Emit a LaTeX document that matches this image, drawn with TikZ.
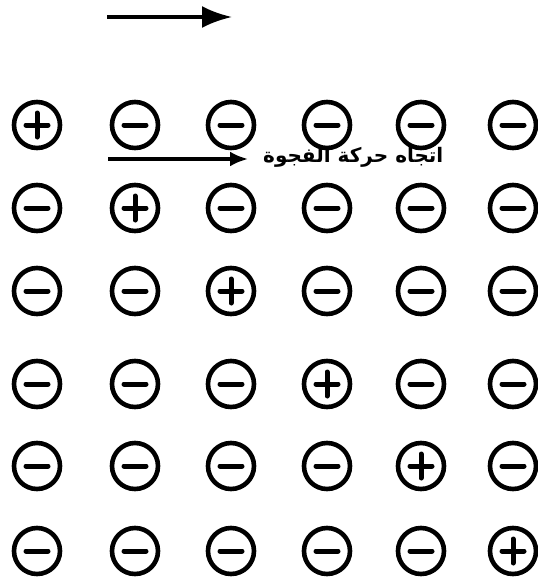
\documentclass[tikz,border=0pt]{standalone}
\usepackage{fontspec}
\usetikzlibrary{arrows.meta}
\newfontfamily\arabicfont[Script=Arabic]{DejaVu Sans}
\TeXXeTstate=1
\tikzset{
  ion/.style={circle, draw=black, line width=4.6pt, minimum size=46pt, inner sep=0pt},
  bar/.style={line width=5pt, line cap=round},
  bigarrow/.style={line width=3.6pt, -{Latex[length=30pt,width=22pt]}},
  smallarrow/.style={line width=3.4pt, -{Latex[length=18pt,width=15pt]}},
  lbl/.style={inner sep=0pt, font=\arabicfont\bfseries\fontsize{20}{24}\selectfont}
}
\begin{document}
\begin{tikzpicture}[x=1pt,y=-1pt]
\useasboundingbox[fill=white] (0,0) rectangle (538,582);
% top arrow
\coordinate (t1) at (107,17);
\coordinate (t2) at (232,17);
\draw[bigarrow] (t1) -- (t2);
% lattice
\foreach \r/\y in {1/125,2/208,3/291,4/384,5/466,6/551}{
  \foreach \c/\x in {1/37,2/135,3/231,4/327,5/421,6/513}{
    \node[ion] (n-\r-\c) at (\x,\y) {};
    \draw[bar] ([xshift=-11pt]n-\r-\c.center) -- ([xshift=11pt]n-\r-\c.center);
    \ifnum\r=\c
      \draw[bar] ([yshift=-12pt]n-\r-\c.center) -- ([yshift=12pt]n-\r-\c.center);
    \fi
  }
}
% hole movement label
\node[lbl, anchor=west] (label) at (263,157) {\beginR اتجاه حركة الفجوة\endR};
\coordinate (m1) at (108,159);
\coordinate (m2) at (248,159);
\draw[smallarrow] (m1) -- (m2);
\end{tikzpicture}
\end{document}
